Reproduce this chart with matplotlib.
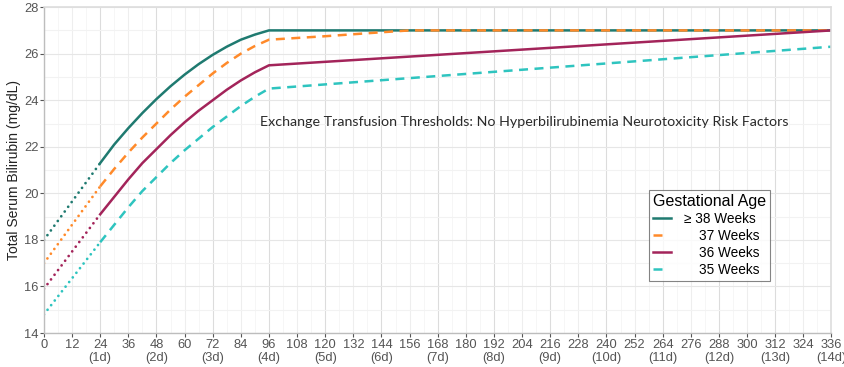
import matplotlib
matplotlib.use("Agg")
import matplotlib.pyplot as plt
from matplotlib.lines import Line2D

plt.rcParams['font.family'] = ['Liberation Sans', 'DejaVu Sans']

# hours since birth
hours_early = [0, 24]
hours_rise = [24, 30, 36, 42, 48, 54, 60, 66, 72, 78, 84, 90, 96]
hours_38 = hours_rise + [336]
hours_37 = hours_rise + [120, 144, 156, 336]
hours_36 = hours_rise + [336]
hours_35 = hours_rise + [336]

# total serum bilirubin (mg/dL)
tsb_38_early = [18.0, 21.3]
tsb_37_early = [17.0, 20.3]
tsb_36_early = [15.9, 19.1]
tsb_35_early = [14.8, 17.9]
tsb_38 = [21.3, 22.1, 22.8, 23.45, 24.05, 24.6, 25.1, 25.55, 25.95, 26.3, 26.6, 26.82, 27.0, 27.0]
tsb_37 = [20.3, 21.05, 21.75, 22.4, 23.0, 23.6, 24.15, 24.65, 25.15, 25.6, 26.0, 26.33, 26.6,
          26.75, 26.92, 27.0, 27.0]
tsb_36 = [19.1, 19.85, 20.6, 21.3, 21.9, 22.5, 23.05, 23.55, 24.0, 24.45, 24.85, 25.2, 25.5, 27.0]
tsb_35 = [17.9, 18.65, 19.4, 20.1, 20.7, 21.3, 21.85, 22.35, 22.85, 23.3, 23.75, 24.15, 24.5, 26.3]

labels = ['\u2265 38 Weeks', '    37 Weeks', '    36 Weeks', '    35 Weeks']
colors = ['#1f7a70', '#ff8a2a', '#a3245a', '#2ec4bf']

x_ticks = list(range(0, 337, 12))
x_labels = [f"{h}\n({h // 24}d)" if h % 24 == 0 and h > 0 else str(h) for h in x_ticks]

fig = plt.figure(figsize=(8.45, 3.67), dpi=100)
ax = fig.add_axes([0.052, 0.0926, 0.932, 0.888])

dash = (0, (3.6, 2.6))
dot = (0, (0.01, 2.1))
series = [
    (hours_38, tsb_38, tsb_38_early, '-'),
    (hours_37, tsb_37, tsb_37_early, dash),
    (hours_36, tsb_36, tsb_36_early, '-'),
    (hours_35, tsb_35, tsb_35_early, dash),
]
for (hx, yv, ye, ls), c in zip(series, colors):
    ax.plot(hours_early, ye, color=c, lw=2.0, linestyle=dot,
            dash_capstyle='round', solid_capstyle='round')
    ax.plot(hx, yv, color=c, lw=1.8, linestyle=ls, dash_capstyle='butt')

ax.set_xlim(0, 336)
ax.set_ylim(14, 28)
ax.set_xticks(x_ticks)
ax.set_xticklabels(x_labels)
ax.set_yticks(range(14, 29, 2))
ax.set_yticks(range(15, 28, 2), minor=True)
ax.tick_params(axis='both', labelsize=9.3, colors='#555555', length=3, width=0.8, pad=1)
ax.tick_params(axis='y', which='minor', length=0)

ax.grid(True, which='major', axis='y', color='#e6e6e6', lw=0.8)
ax.grid(True, which='minor', axis='y', color='#f2f2f2', lw=0.8)
for h in x_ticks:
    ax.axvline(h, color='#dcdcdc' if h % 24 == 0 else '#eeeeee', lw=0.8, zorder=0)
for h in range(6, 336, 12):
    ax.axvline(h, color='#f5f5f5', lw=0.6, zorder=0)
ax.set_axisbelow(True)

for side in ['left', 'bottom']:
    ax.spines[side].set_color('#bdbdbd')
    ax.spines[side].set_linewidth(1.0)
for side in ['top', 'right']:
    ax.spines[side].set_color('#dddddd')
    ax.spines[side].set_linewidth(1.2)

ax.set_ylabel('Total Serum Bilirubin (mg/dL)', fontsize=10, color='#222222', labelpad=2)

ax.text(0.274, 0.647, 'Exchange Transfusion Thresholds: No Hyperbilirubinemia Neurotoxicity Risk Factors',
        transform=ax.transAxes, fontsize=10.3, color='#2a2a2a', va='center',
        family=['Lato', 'DejaVu Sans'])

handles = [
    Line2D([], [], color=colors[0], lw=1.8, linestyle='-'),
    Line2D([], [], color=colors[1], lw=1.8, linestyle=(0, (3.6, 6))),
    Line2D([], [], color=colors[2], lw=1.8, linestyle='-'),
    Line2D([], [], color=colors[3], lw=1.8, linestyle=(0, (3.6, 6))),
]
leg = ax.legend(handles, labels, title='Gestational Age', loc='upper left',
                bbox_to_anchor=(0.768, 0.439),
                fontsize=9.8, title_fontsize=11.5, frameon=True, fancybox=False,
                handlelength=1.3, handletextpad=1.0, labelspacing=0.22,
                borderpad=0.3, borderaxespad=0)
leg.get_frame().set_edgecolor('#666666')
leg.get_frame().set_linewidth(0.8)
leg._legend_box.align = 'left'

fig.savefig('out.png', dpi=100)
